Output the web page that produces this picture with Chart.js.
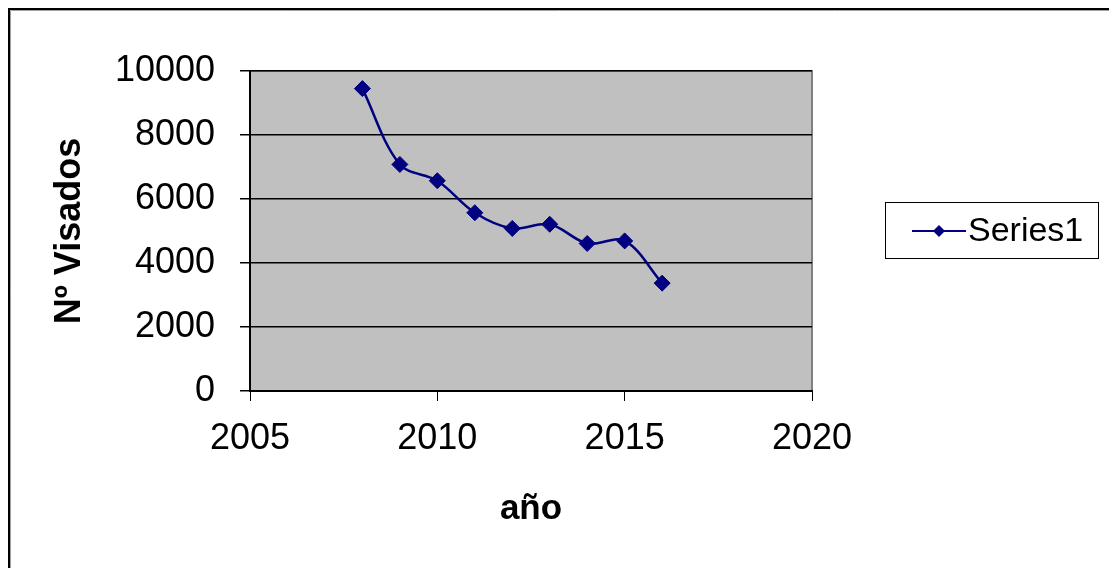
<!DOCTYPE html>
<html>
<head>
<meta charset="utf-8">
<script src="https://cdn.jsdelivr.net/npm/chart.js@4/dist/chart.umd.min.js"></script>
<style>
  html, body { margin: 0; padding: 0; background: #fff; }
  #wrap { width: 1109px; height: 568px; position: relative; }
</style>
</head>
<body>
<div id="wrap"><canvas id="chart" width="1109" height="568"></canvas></div>
<script>
/*global Chart */
const years = [2008, 2009, 2010, 2011, 2012, 2013, 2014, 2015, 2016];
const visados = [9450, 7080, 6570, 5570, 5080, 5210, 4610, 4690, 3370];
const seriesLabel = 'Series1';
const xTitle = 'año';
const yTitle = 'Nº Visados';

const navy = '#000080';
const fontFamily = '"Liberation Sans", Arial, sans-serif';

// grey plot area, grey top/right border and the outer frame
const plotBackground = {
  id: 'plotBackground',
  beforeDraw(chart) {
    const {ctx, chartArea: a} = chart;
    ctx.save();
    ctx.fillStyle = '#c0c0c0';
    ctx.fillRect(a.left, a.top, a.right - a.left, a.bottom - a.top);
    ctx.strokeStyle = '#808080';
    ctx.lineWidth = 2;
    ctx.beginPath();
    ctx.moveTo(a.left, a.top);
    ctx.lineTo(a.right, a.top);
    ctx.lineTo(a.right, a.bottom);
    ctx.stroke();
    // outer frame (only left and top are visible)
    ctx.strokeStyle = '#000';
    ctx.lineWidth = 2;
    ctx.beginPath();
    ctx.moveTo(9, 568);
    ctx.lineTo(9, 9);
    ctx.lineTo(1109, 9);
    ctx.stroke();
    ctx.strokeStyle = '#a0a0a0';
    ctx.lineWidth = 1;
    ctx.beginPath();
    ctx.moveTo(10.5, 568);
    ctx.lineTo(10.5, 10.5);
    ctx.lineTo(1109, 10.5);
    ctx.stroke();
    ctx.restore();
  }
};

// Excel style legend box on the right
const boxLegend = {
  id: 'boxLegend',
  afterDraw(chart) {
    const {ctx} = chart;
    const ds = chart.data.datasets[0];
    ctx.save();
    ctx.strokeStyle = '#000';
    ctx.lineWidth = 1;
    ctx.strokeRect(885.5, 202.5, 213, 56);
    ctx.strokeStyle = ds.borderColor;
    ctx.lineWidth = 2;
    ctx.beginPath();
    ctx.moveTo(912, 231);
    ctx.lineTo(966, 231);
    ctx.stroke();
    ctx.fillStyle = ds.pointBackgroundColor;
    ctx.beginPath();
    ctx.moveTo(939, 225);
    ctx.lineTo(945, 231);
    ctx.lineTo(939, 237);
    ctx.lineTo(933, 231);
    ctx.closePath();
    ctx.fill();
    ctx.fillStyle = '#000';
    ctx.font = '34px ' + fontFamily;
    ctx.textBaseline = 'middle';
    ctx.fillText(ds.label, 968, 232);
    ctx.restore();
  }
};

new Chart(document.getElementById('chart'), {
  type: 'line',
  data: {
    datasets: [
      {
        label: seriesLabel,
        data: years.map(function (y, i) { return {x: y, y: visados[i]}; }),
        borderColor: navy,
        backgroundColor: navy,
        pointBackgroundColor: navy,
        pointBorderColor: navy,
        borderWidth: 2.5,
        pointStyle: 'rectRot',
        pointRadius: 8,
        pointBorderWidth: 1,
        tension: 0.35,
      }
    ]
  },
  options: {
    responsive: false,
    animation: false,
    events: [],
    layout: {
      padding: {left: 0, top: 71, right: 297, bottom: 0}
    },
    plugins: {
      legend: {display: false},
      tooltip: {enabled: false},
    },
    scales: {
      x: {
        type: 'linear',
        min: 2005,
        max: 2020,
        afterFit(scale) { scale.height = 177; },
        ticks: {
          stepSize: 5,
          color: '#000',
          padding: 16,
          maxRotation: 0,
          font: {family: fontFamily, size: 36},
          callback: function (v) { return String(v); },
        },
        grid: {
          drawOnChartArea: false,
          drawTicks: true,
          tickLength: 10,
          color: '#000',
        },
        border: {color: '#000', width: 2},
        title: {
          display: true,
          text: xTitle,
          color: '#000',
          font: {family: fontFamily, size: 35, weight: 'bold'},
          padding: {top: 0, bottom: 38},
        },
      },
      y: {
        min: 0,
        max: 10000,
        afterFit(scale) { scale.width = 250; },
        ticks: {
          stepSize: 2000,
          color: '#000',
          padding: 25,
          font: {family: fontFamily, size: 36},
          callback: function (v) { return String(v); },
        },
        grid: {
          color: '#000',
          lineWidth: 1.5,
          tickLength: 10,
        },
        border: {color: '#000', width: 2},
        title: {
          display: true,
          text: yTitle,
          color: '#000',
          font: {family: fontFamily, size: 36, weight: 'bold'},
          padding: {top: 48, bottom: 0},
        },
      },
    }
  },
  plugins: [plotBackground, boxLegend]
});
</script>
</body>
</html>
